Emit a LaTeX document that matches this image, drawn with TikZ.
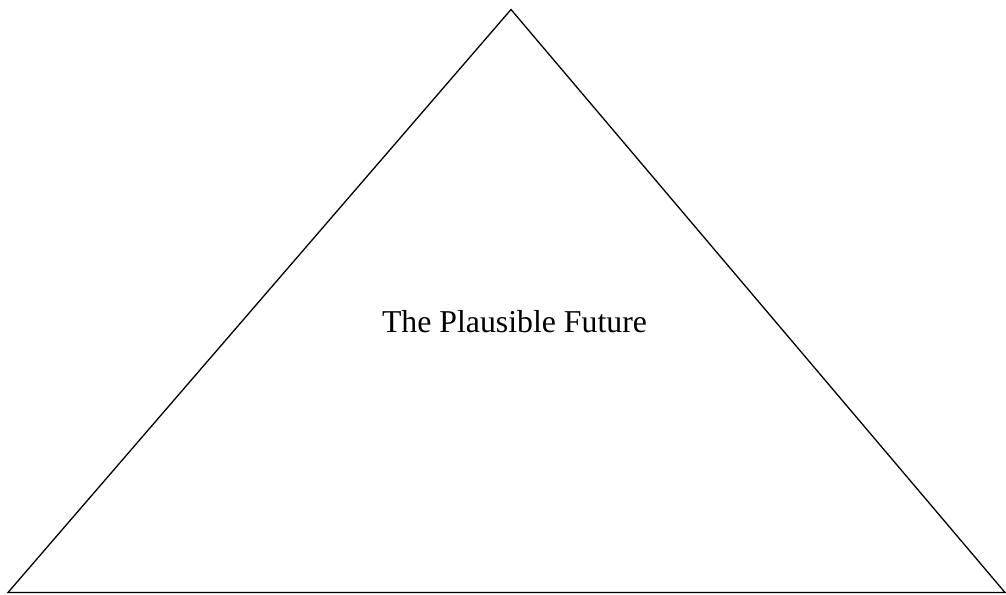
\documentclass[tikz,border=0pt]{standalone}
\usepackage{fontspec}
\setmainfont{Liberation Serif}
\begin{document}
\begin{tikzpicture}[x=1pt,y=-1pt,
  tri/.style={draw=black,line width=1.3pt,line join=miter},
  lbl/.style={font=\fontsize{31.8}{36}\selectfont,anchor=base,inner sep=0pt}]
\useasboundingbox (0,0) rectangle (1006,594);
\coordinate (apex) at (511,9.5);
\coordinate (bl) at (8,592.5);
\coordinate (br) at (1005,592.5);
\draw[tri] (apex) -- (br) -- (bl) -- cycle;
\node[lbl] (title) at (514.5,332) {The Plausible Future};
\end{tikzpicture}
\end{document}
